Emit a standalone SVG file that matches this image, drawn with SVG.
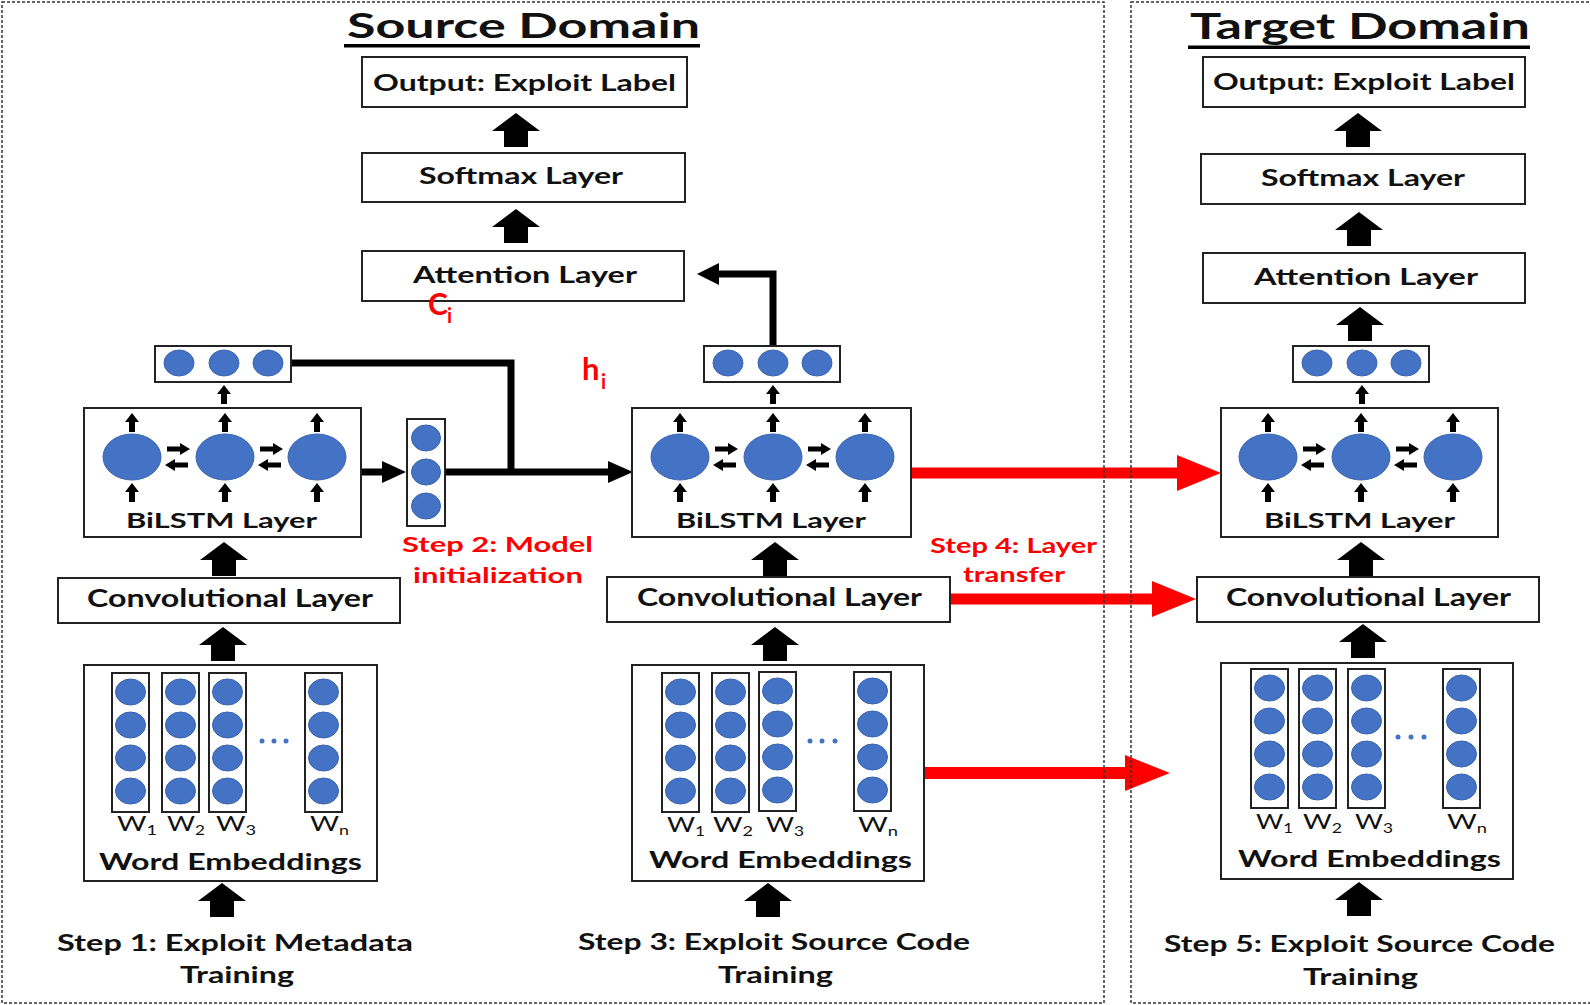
<svg xmlns="http://www.w3.org/2000/svg" xmlns:xlink="http://www.w3.org/1999/xlink" width="1590" height="1005" viewBox="0 0 1590 1005">
  <style>
    .box { fill: #ffffff; stroke: #222222; stroke-width: 2; }
    .col { fill: none; stroke: #222222; stroke-width: 2; }
    .n { fill: #4472c4; stroke: #3a64ad; stroke-width: 1; }
    .lbl { font-family: Lato, "Liberation Sans", sans-serif; font-weight: bold; fill: #111111; }
    .red { font-family: Lato, "Liberation Sans", sans-serif; font-weight: bold; fill: #ff0000; }
    .w { font-family: Lato, "Liberation Sans", sans-serif; font-weight: normal; fill: #111111; font-size: 22px; }
    .sub { font-size: 14px; }
    .frame { fill: none; stroke: #333333; stroke-width: 1.5; stroke-dasharray: 3 2; }
    .blk { fill: none; stroke: #000000; stroke-width: 7; }
    .redline { fill: none; stroke: #ff0000; }
  </style>
  <defs>
    <!-- thick block arrow pointing up, tip at origin -->
    <path id="bigUp" d="M0,0 L24,18 L12,18 L12,34 L-12,34 L-12,18 L-24,18 Z" fill="#000"/>
    <!-- small up arrow, tip at origin -->
    <path id="smUp" d="M0,0 L7,9 L3,9 L3,19 L-3,19 L-3,9 L-7,9 Z" fill="#000"/>
    <!-- small horizontal arrows, tip at origin -->
    <path id="smRight" d="M0,0 L-10,-6 L-10,-2.5 L-23,-2.5 L-23,2.5 L-10,2.5 L-10,6 Z" fill="#000"/>
    <path id="smLeft" d="M0,0 L10,-6 L10,-2.5 L23,-2.5 L23,2.5 L10,2.5 L10,6 Z" fill="#000"/>
    <!-- embedding column: box with four units -->
    <g id="embCol">
      <rect class="col" x="0" y="0" width="37" height="139"/>
      <ellipse class="n" cx="18.5" cy="19" rx="15" ry="13"/>
      <ellipse class="n" cx="18.5" cy="52" rx="15" ry="13"/>
      <ellipse class="n" cx="18.5" cy="85" rx="15" ry="13"/>
      <ellipse class="n" cx="18.5" cy="118" rx="15" ry="13"/>
    </g>
    <!-- BiLSTM internals relative to box top-left -->
    <g id="bilstmCells">
      <ellipse class="n" cx="48" cy="49" rx="29" ry="23"/>
      <ellipse class="n" cx="141" cy="49" rx="29" ry="23"/>
      <ellipse class="n" cx="233" cy="49" rx="29" ry="23"/>
      <use href="#smUp" x="48" y="5"/>
      <use href="#smUp" x="141" y="5"/>
      <use href="#smUp" x="233" y="5"/>
      <use href="#smUp" x="48" y="75"/>
      <use href="#smUp" x="141" y="75"/>
      <use href="#smUp" x="233" y="75"/>
      <use href="#smRight" x="106" y="41"/>
      <use href="#smLeft" x="81" y="57"/>
      <use href="#smRight" x="199" y="41"/>
      <use href="#smLeft" x="174" y="57"/>
    </g>
    <!-- hidden-state vector (horizontal) -->
    <g id="hVec">
      <rect class="box" x="0" y="0" width="136" height="36"/>
      <ellipse class="n" cx="24" cy="17" rx="15" ry="13"/>
      <ellipse class="n" cx="69" cy="17" rx="15" ry="13"/>
      <ellipse class="n" cx="113" cy="17" rx="15" ry="13"/>
    </g>
  </defs>

  <rect x="0" y="0" width="1590" height="1005" fill="#ffffff"/>

  <!-- connectors -->
  <g id="connectors">
    <!-- Step 1 hidden output joins the initialisation path -->
    <polyline class="blk" points="292,363 511,363 511,472"/>
    <!-- BiLSTM 1 to summary vector -->
    <line class="blk" x1="361" y1="472" x2="384" y2="472"/>
    <polygon points="382,461 406,472 382,483" fill="#000"/>
    <!-- summary vector to Step 3 BiLSTM -->
    <line class="blk" x1="445" y1="472" x2="610" y2="472"/>
    <polygon points="608,461 633,472 608,483" fill="#000"/>
    <!-- Step 3 hidden output up to attention -->
    <polyline class="blk" points="773,346 773,274 716,274"/>
    <polygon points="719,263 697,274 719,285" fill="#000"/>

    <!-- layer transfer arrows -->
    <line class="redline" stroke-width="11" x1="911" y1="473" x2="1180" y2="473"/>
    <polygon points="1177,455 1221,473 1177,491" fill="#ff0000"/>
    <line class="redline" stroke-width="11" x1="950" y1="599" x2="1155" y2="599"/>
    <polygon points="1152,581 1196,599 1152,617" fill="#ff0000"/>
    <line class="redline" stroke-width="12" x1="924" y1="773" x2="1128" y2="773"/>
    <polygon points="1125,755 1170,773 1125,791" fill="#ff0000"/>

    <!-- block arrows, source side -->
    <use href="#bigUp" x="516" y="113"/>
    <use href="#bigUp" x="516" y="209"/>
    <use href="#bigUp" x="224" y="542"/>
    <use href="#bigUp" x="223" y="627"/>
    <use href="#bigUp" x="222" y="883"/>
    <use href="#bigUp" x="775" y="542"/>
    <use href="#bigUp" x="775" y="627"/>
    <use href="#bigUp" x="768" y="883"/>
    <!-- block arrows, target side -->
    <use href="#bigUp" x="1358" y="113"/>
    <use href="#bigUp" x="1359" y="212"/>
    <use href="#bigUp" x="1360" y="307"/>
    <use href="#bigUp" x="1361" y="542"/>
    <use href="#bigUp" x="1363" y="624"/>
    <use href="#bigUp" x="1359" y="882"/>
    <!-- BiLSTM to hidden vector -->
    <use href="#smUp" x="224" y="385"/>
    <use href="#smUp" x="773" y="385"/>
    <use href="#smUp" x="1362" y="385"/>
  </g>

  <!-- ===== Source domain ===== -->
  <g id="source-title">
    <text class="lbl" x="347" y="38" font-size="34" textLength="353" lengthAdjust="spacingAndGlyphs">Source Domain</text>
    <rect x="344" y="44" width="356" height="3.5" fill="#000"/>
  </g>

  <g id="src-output">
    <rect class="box" x="362" y="57" width="325" height="50"/>
    <text class="lbl" x="373" y="91" font-size="23" textLength="303" lengthAdjust="spacingAndGlyphs">Output: Exploit Label</text>
  </g>
  <g id="src-softmax">
    <rect class="box" x="362" y="153" width="323" height="49"/>
    <text class="lbl" x="419" y="184" font-size="23" textLength="204" lengthAdjust="spacingAndGlyphs">Softmax Layer</text>
  </g>
  <g id="src-attention">
    <rect class="box" x="362" y="251" width="322" height="50"/>
    <text class="lbl" x="413" y="283" font-size="23" textLength="224" lengthAdjust="spacingAndGlyphs">Attention Layer</text>
  </g>
  <g id="label-ci">
    <text class="red" x="428" y="315" font-size="30">C</text>
    <text class="red" x="447" y="323" font-size="20">i</text>
  </g>
  <g id="label-hi">
    <text class="red" x="582" y="380" font-size="31">h</text>
    <text class="red" x="601" y="389" font-size="20">i</text>
  </g>

  <!-- Step 1 -->
  <g id="s1-hidden"><use href="#hVec" x="155" y="346"/></g>
  <g id="s1-bilstm">
    <rect class="box" x="84" y="408" width="277" height="129"/>
    <use href="#bilstmCells" x="84" y="408"/>
    <text class="lbl" x="126" y="528" font-size="21" textLength="191" lengthAdjust="spacingAndGlyphs">BiLSTM Layer</text>
  </g>
  <g id="s1-conv">
    <rect class="box" x="58" y="578" width="342" height="45"/>
    <text class="lbl" x="87" y="607" font-size="24" textLength="286" lengthAdjust="spacingAndGlyphs">Convolutional Layer</text>
  </g>
  <g id="s1-embeddings">
    <rect class="box" x="84" y="665" width="293" height="216"/>
    <use href="#embCol" x="112" y="673"/>
    <use href="#embCol" x="162" y="673"/>
    <use href="#embCol" x="209" y="673"/>
    <use href="#embCol" x="305" y="673"/>
    <circle cx="262" cy="741" r="2.5" fill="#4472c4"/>
    <circle cx="274" cy="741" r="2.5" fill="#4472c4"/>
    <circle cx="286" cy="741" r="2.5" fill="#4472c4"/>
    <text class="w" x="117" y="831" textLength="40" lengthAdjust="spacingAndGlyphs">W<tspan class="sub" dy="4">1</tspan></text>
    <text class="w" x="167" y="831" textLength="38" lengthAdjust="spacingAndGlyphs">W<tspan class="sub" dy="4">2</tspan></text>
    <text class="w" x="216" y="831" textLength="40" lengthAdjust="spacingAndGlyphs">W<tspan class="sub" dy="4">3</tspan></text>
    <text class="w" x="310" y="831" textLength="39" lengthAdjust="spacingAndGlyphs">W<tspan class="sub" dy="4">n</tspan></text>
    <text class="lbl" x="99" y="870" font-size="22" textLength="263" lengthAdjust="spacingAndGlyphs">Word Embeddings</text>
  </g>
  <g id="s1-caption">
    <text class="lbl" x="57" y="951" font-size="22" textLength="356" lengthAdjust="spacingAndGlyphs">Step 1: Exploit Metadata</text>
    <text class="lbl" x="180" y="983" font-size="22" textLength="114" lengthAdjust="spacingAndGlyphs">Training</text>
  </g>

  <!-- Step 2 -->
  <g id="s2-vector">
    <rect class="box" x="407" y="419" width="38" height="107"/>
    <ellipse class="n" cx="426" cy="438" rx="14.5" ry="13"/>
    <ellipse class="n" cx="426" cy="472" rx="14.5" ry="13"/>
    <ellipse class="n" cx="426" cy="506" rx="14.5" ry="13"/>
  </g>
  <g id="s2-caption">
    <text class="red" x="402" y="552" font-size="21" textLength="191" lengthAdjust="spacingAndGlyphs">Step 2: Model</text>
    <text class="red" x="413" y="583" font-size="21" textLength="170" lengthAdjust="spacingAndGlyphs">initialization</text>
  </g>

  <!-- Step 3 -->
  <g id="s3-hidden"><use href="#hVec" x="704" y="346"/></g>
  <g id="s3-bilstm">
    <rect class="box" x="632" y="408" width="279" height="129"/>
    <use href="#bilstmCells" x="632" y="408"/>
    <text class="lbl" x="676" y="528" font-size="21" textLength="190" lengthAdjust="spacingAndGlyphs">BiLSTM Layer</text>
  </g>
  <g id="s3-conv">
    <rect class="box" x="607" y="577" width="343" height="45"/>
    <text class="lbl" x="637" y="606" font-size="24" textLength="285" lengthAdjust="spacingAndGlyphs">Convolutional Layer</text>
  </g>
  <g id="s3-embeddings">
    <rect class="box" x="632" y="665" width="292" height="216"/>
    <use href="#embCol" x="662" y="673"/>
    <use href="#embCol" x="712" y="673"/>
    <use href="#embCol" x="759" y="672"/>
    <use href="#embCol" x="854" y="672"/>
    <circle cx="810" cy="741" r="2.5" fill="#4472c4"/>
    <circle cx="822" cy="741" r="2.5" fill="#4472c4"/>
    <circle cx="835" cy="741" r="2.5" fill="#4472c4"/>
    <text class="w" x="667" y="832" textLength="38" lengthAdjust="spacingAndGlyphs">W<tspan class="sub" dy="4">1</tspan></text>
    <text class="w" x="713" y="832" textLength="40" lengthAdjust="spacingAndGlyphs">W<tspan class="sub" dy="4">2</tspan></text>
    <text class="w" x="766" y="832" textLength="38" lengthAdjust="spacingAndGlyphs">W<tspan class="sub" dy="4">3</tspan></text>
    <text class="w" x="858" y="832" textLength="40" lengthAdjust="spacingAndGlyphs">W<tspan class="sub" dy="4">n</tspan></text>
    <text class="lbl" x="649" y="868" font-size="22" textLength="263" lengthAdjust="spacingAndGlyphs">Word Embeddings</text>
  </g>
  <g id="s3-caption">
    <text class="lbl" x="578" y="950" font-size="22" textLength="392" lengthAdjust="spacingAndGlyphs">Step 3: Exploit Source Code</text>
    <text class="lbl" x="718" y="983" font-size="22" textLength="115" lengthAdjust="spacingAndGlyphs">Training</text>
  </g>

  <!-- Step 4 -->
  <g id="s4-caption">
    <text class="red" x="930" y="553" font-size="21" textLength="167" lengthAdjust="spacingAndGlyphs">Step 4: Layer</text>
    <text class="red" x="963" y="582" font-size="21" textLength="102" lengthAdjust="spacingAndGlyphs">transfer</text>
  </g>

  <!-- ===== Target domain ===== -->
  <g id="target-title">
    <text class="lbl" x="1190" y="39" font-size="36" textLength="340" lengthAdjust="spacingAndGlyphs">Target Domain</text>
    <rect x="1188" y="45.5" width="342" height="3.5" fill="#000"/>
  </g>
  <g id="tgt-output">
    <rect class="box" x="1203" y="57" width="322" height="50"/>
    <text class="lbl" x="1213" y="90" font-size="23" textLength="302" lengthAdjust="spacingAndGlyphs">Output: Exploit Label</text>
  </g>
  <g id="tgt-softmax">
    <rect class="box" x="1201" y="154" width="324" height="50"/>
    <text class="lbl" x="1261" y="186" font-size="23" textLength="204" lengthAdjust="spacingAndGlyphs">Softmax Layer</text>
  </g>
  <g id="tgt-attention">
    <rect class="box" x="1203" y="253" width="322" height="50"/>
    <text class="lbl" x="1254" y="285" font-size="23" textLength="224" lengthAdjust="spacingAndGlyphs">Attention Layer</text>
  </g>
  <g id="s5-hidden"><use href="#hVec" x="1293" y="346"/></g>
  <g id="s5-bilstm">
    <rect class="box" x="1221" y="408" width="277" height="129"/>
    <use href="#bilstmCells" x="1220" y="408"/>
    <text class="lbl" x="1264" y="528" font-size="21" textLength="191" lengthAdjust="spacingAndGlyphs">BiLSTM Layer</text>
  </g>
  <g id="s5-conv">
    <rect class="box" x="1197" y="577" width="342" height="45"/>
    <text class="lbl" x="1226" y="606" font-size="24" textLength="285" lengthAdjust="spacingAndGlyphs">Convolutional Layer</text>
  </g>
  <g id="s5-embeddings">
    <rect class="box" x="1221" y="663" width="292" height="216"/>
    <use href="#embCol" x="1251" y="669"/>
    <use href="#embCol" x="1299" y="669"/>
    <use href="#embCol" x="1348" y="669"/>
    <use href="#embCol" x="1443" y="669"/>
    <circle cx="1398" cy="737" r="2.5" fill="#4472c4"/>
    <circle cx="1411" cy="737" r="2.5" fill="#4472c4"/>
    <circle cx="1424" cy="737" r="2.5" fill="#4472c4"/>
    <text class="w" x="1256" y="829" textLength="37" lengthAdjust="spacingAndGlyphs">W<tspan class="sub" dy="4">1</tspan></text>
    <text class="w" x="1303" y="829" textLength="39" lengthAdjust="spacingAndGlyphs">W<tspan class="sub" dy="4">2</tspan></text>
    <text class="w" x="1355" y="829" textLength="38" lengthAdjust="spacingAndGlyphs">W<tspan class="sub" dy="4">3</tspan></text>
    <text class="w" x="1447" y="829" textLength="40" lengthAdjust="spacingAndGlyphs">W<tspan class="sub" dy="4">n</tspan></text>
    <text class="lbl" x="1238" y="867" font-size="22" textLength="263" lengthAdjust="spacingAndGlyphs">Word Embeddings</text>
  </g>
  <g id="s5-caption">
    <text class="lbl" x="1164" y="952" font-size="22" textLength="391" lengthAdjust="spacingAndGlyphs">Step 5: Exploit Source Code</text>
    <text class="lbl" x="1303" y="985" font-size="22" textLength="115" lengthAdjust="spacingAndGlyphs">Training</text>
  </g>

  <!-- domain frames (drawn last, over the transfer arrows) -->
  <g id="frames">
    <rect class="frame" x="2" y="2" width="1102" height="1001"/>
    <rect class="frame" x="1131" y="2" width="1457" height="1001"/>
  </g>
</svg>
